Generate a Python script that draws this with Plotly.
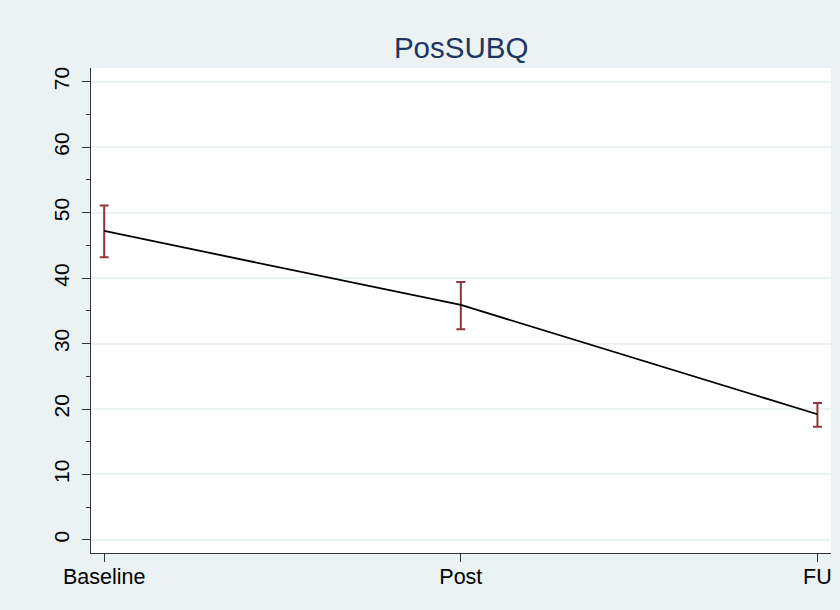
import plotly.graph_objects as go

# Mean PosSUBQ score with 95% confidence interval at each time point
timepoints = ["Baseline", "Post", "FU"]
means = [47.2, 35.9, 19.2]
ci_upper = [51.1, 39.4, 20.9]
ci_lower = [43.2, 32.2, 17.3]

y_ticks = [0, 10, 20, 30, 40, 50, 60, 70]

bg = "#EAF2F3"
font_family = "Liberation Sans, Arial, sans-serif"

fig = go.Figure()

# Confidence interval bars (no marker)
fig.add_trace(go.Scatter(
    x=timepoints,
    y=means,
    mode="markers",
    marker=dict(size=0.1, color="rgba(0,0,0,0)"),
    error_y=dict(
        type="data",
        symmetric=False,
        array=[u - m for u, m in zip(ci_upper, means)],
        arrayminus=[m - l for m, l in zip(means, ci_lower)],
        color="#90353B",
        thickness=2,
        width=4.5,
    ),
    showlegend=False,
    hoverinfo="skip",
))

# Connecting line through the means
fig.add_trace(go.Scatter(
    x=timepoints,
    y=means,
    mode="lines",
    line=dict(color="black", width=1.8),
    showlegend=False,
))

fig.update_layout(
    width=840,
    height=610,
    paper_bgcolor=bg,
    plot_bgcolor="white",
    margin=dict(l=91, r=9, t=68, b=57),
    font=dict(family=font_family, color="black"),
    title=dict(
        text="PosSUBQ",
        x=0.549,
        xanchor="center",
        y=1 - 48 / 610,
        yanchor="middle",
        font=dict(size=29.5, color="#1F3563", family=font_family),
    ),
)

fig.update_xaxes(
    type="category",
    range=[-0.037, 2.038],
    showgrid=False,
    zeroline=False,
    showline=True,
    linecolor="#333333",
    linewidth=1.2,
    ticks="outside",
    ticklen=8,
    tickcolor="#333333",
    tickwidth=1.2,
    ticklabelstandoff=-4,
    tickfont=dict(size=21.5, color="black"),
)

fig.update_yaxes(
    range=[-2.0, 72.1],
    tickvals=y_ticks,
    ticktext=[str(v) for v in y_ticks],
    tickangle=-90,
    showgrid=True,
    gridcolor=bg,
    gridwidth=1.5,
    zeroline=False,
    showline=True,
    linecolor="#333333",
    linewidth=1.2,
    ticks="outside",
    ticklen=8,
    tickcolor="#333333",
    tickwidth=1.2,
    ticklabelstandoff=5,
    tickfont=dict(size=21, color="black"),
    minor=dict(dtick=5, tick0=0, ticks="outside", ticklen=4,
               tickcolor="#333333", tickwidth=1.2, showgrid=False),
)

fig.write_html("out.html")
